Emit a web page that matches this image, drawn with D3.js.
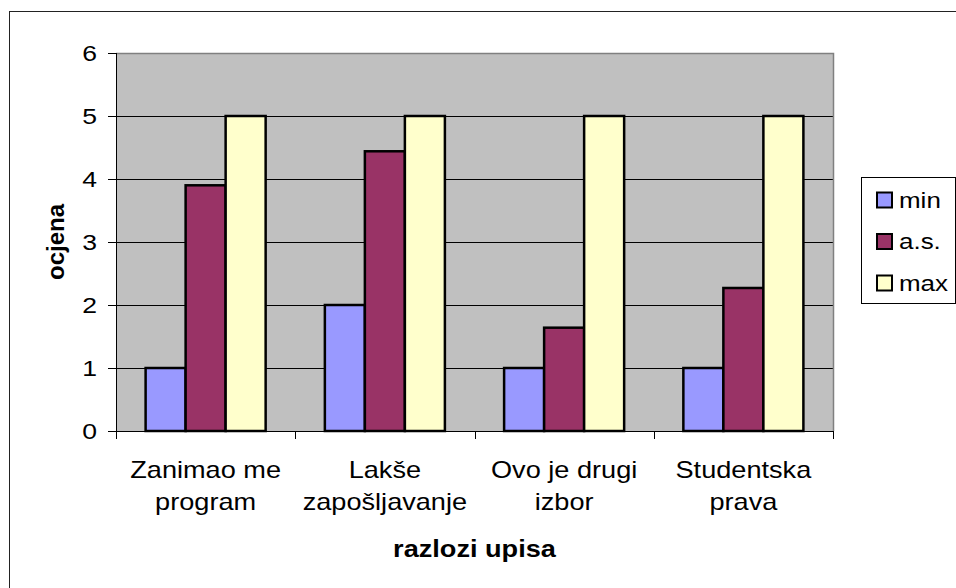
<!DOCTYPE html>
<html>
<head>
<meta charset="utf-8">
<script src="https://cdn.jsdelivr.net/npm/d3@7"></script>
<style>
  html, body { margin: 0; padding: 0; background: #fff; }
  svg { display: block; font-family: "Liberation Sans", Arial, sans-serif; }
</style>
</head>
<body>
<svg id="chart" width="956" height="588"></svg>
<script>
// podaci (ocitano sa slike)
const categories = ['Zanimao me\nprogram', 'Lakše\nzapošljavanje', 'Ovo je drugi\nizbor', 'Studentska\nprava'];
const seriesNames = ['min', 'a.s.', 'max'];
const seriesColors = ['#9999ff', '#993366', '#ffffcc'];
const minValues = [1, 2, 1, 1];
const asValues = [3.9, 4.44, 1.64, 2.27];
const maxValues = [5, 5, 5, 5];
const yTicks = [0, 1, 2, 3, 4, 5, 6];
const yTitle = 'ocjena';
const xTitle = 'razlozi upisa';

const rows = categories.map((c, i) => ({ cat: c, values: [minValues[i], asValues[i], maxValues[i]] }));

const svg = d3.select('#chart');
const hs = 1.18; // original je horizontalno razvucen

// okvir cijelog grafa (desno i dolje izlazi iz slike)
svg.append('rect')
  .attr('x', 9.5).attr('y', 11.5).attr('width', 1000).attr('height', 1000)
  .attr('fill', 'none').attr('stroke', '#222').attr('stroke-width', 1);

const plot = { left: 116, right: 833, top: 53, bottom: 431 };

const x0 = d3.scaleBand().domain(categories).range([plot.left, plot.right]).paddingInner(0).paddingOuter(0);
const x1 = d3.scaleBand().domain(seriesNames).range([0, x0.bandwidth()]).paddingInner(0).paddingOuter(0.74);
const y = d3.scaleLinear().domain([0, 6]).range([plot.bottom, plot.top]);

// pozadina plota
svg.append('rect')
  .attr('x', plot.left).attr('y', plot.top)
  .attr('width', plot.right - plot.left).attr('height', plot.bottom - plot.top)
  .attr('fill', '#c0c0c0');

// mreza
svg.append('g').selectAll('line')
  .data(yTicks.filter((t) => t > 0 && t < 6))
  .join('line')
  .attr('x1', plot.left).attr('x2', plot.right)
  .attr('y1', (d) => Math.round(y(d)) + 0.5).attr('y2', (d) => Math.round(y(d)) + 0.5)
  .attr('stroke', '#000').attr('stroke-width', 1);

// gornji i desni rub plota
svg.append('path')
  .attr('d', `M${plot.left},${plot.top + 0.5}H${plot.right + 0.5}V${plot.bottom}`)
  .attr('fill', 'none').attr('stroke', '#808080').attr('stroke-width', 1.5);

// stupci
const groups = svg.append('g').selectAll('g')
  .data(rows)
  .join('g')
  .attr('transform', (d) => `translate(${x0(d.cat)},0)`);

groups.selectAll('rect')
  .data((d) => d.values.map((v, i) => ({ key: seriesNames[i], v, color: seriesColors[i] })))
  .join('rect')
  .attr('x', (d) => x1(d.key))
  .attr('y', (d) => y(d.v))
  .attr('width', x1.bandwidth())
  .attr('height', (d) => y(0) - y(d.v))
  .attr('fill', (d) => d.color)
  .attr('stroke', '#000')
  .attr('stroke-width', 2.5);

// y os
const yAxisG = svg.append('g');
yAxisG.append('line')
  .attr('x1', plot.left + 0.5).attr('x2', plot.left + 0.5)
  .attr('y1', plot.top).attr('y2', plot.bottom)
  .attr('stroke', '#000');
yAxisG.selectAll('line.tick')
  .data(yTicks)
  .join('line')
  .attr('class', 'tick')
  .attr('x1', plot.left - 8).attr('x2', plot.left)
  .attr('y1', (d) => Math.round(y(d)) + 0.5).attr('y2', (d) => Math.round(y(d)) + 0.5)
  .attr('stroke', '#000');
yAxisG.selectAll('text')
  .data(yTicks)
  .join('text')
  .attr('transform', (d) => `translate(${plot.left - 19},${y(d)}) scale(${hs},1)`)
  .attr('text-anchor', 'end')
  .attr('dy', '0.36em')
  .attr('font-size', 22.5)
  .attr('fill', '#000')
  .text((d) => d);

// x os
const xAxisG = svg.append('g');
xAxisG.append('line')
  .attr('x1', plot.left).attr('x2', plot.right + 1)
  .attr('y1', plot.bottom + 0.5).attr('y2', plot.bottom + 0.5)
  .attr('stroke', '#000');
const bounds = categories.map((c) => x0(c)).concat([plot.right]);
xAxisG.selectAll('line.tick')
  .data(bounds)
  .join('line')
  .attr('class', 'tick')
  .attr('x1', (d) => Math.round(d) + 0.5).attr('x2', (d) => Math.round(d) + 0.5)
  .attr('y1', plot.bottom).attr('y2', plot.bottom + 8)
  .attr('stroke', '#000');

const catLabels = xAxisG.selectAll('text.cat')
  .data(categories)
  .join('text')
  .attr('class', 'cat')
  .attr('transform', (d) => `translate(${x0(d) + x0.bandwidth() / 2},478) scale(${hs},1)`)
  .attr('text-anchor', 'middle')
  .attr('font-size', 23)
  .attr('fill', '#000');
catLabels.selectAll('tspan')
  .data((d) => d.split('\n'))
  .join('tspan')
  .attr('x', 0)
  .attr('y', (d, i) => i * 32.5)
  .text((d) => d);

// naslovi osi
svg.append('text')
  .attr('transform', `translate(${(plot.left + plot.right) / 2},557) scale(${hs},1)`)
  .attr('text-anchor', 'middle')
  .attr('font-size', 23)
  .attr('font-weight', 'bold')
  .text(xTitle);

svg.append('text')
  .attr('transform', `translate(64,${(plot.top + plot.bottom) / 2}) rotate(-90)`)
  .attr('text-anchor', 'middle')
  .attr('font-size', 24)
  .attr('font-weight', 'bold')
  .text(yTitle);

// legenda
const legend = svg.append('g');
legend.append('rect')
  .attr('x', 861.5).attr('y', 177.5).attr('width', 94).attr('height', 126)
  .attr('fill', '#fff').attr('stroke', '#000').attr('stroke-width', 1);
const legY = d3.scalePoint().domain(seriesNames).range([200, 283]);
const items = legend.selectAll('g.item')
  .data(seriesNames)
  .join('g')
  .attr('class', 'item')
  .attr('transform', (d) => `translate(0,${legY(d)})`);
items.append('rect')
  .attr('x', 877).attr('y', -7.5).attr('width', 15).attr('height', 15)
  .attr('fill', (d, i) => seriesColors[i])
  .attr('stroke', '#000').attr('stroke-width', 2);
items.append('text')
  .attr('transform', `translate(899,0) scale(${hs},1)`)
  .attr('dy', '0.36em')
  .attr('font-size', 22)
  .text((d) => d);
</script>
</body>
</html>
